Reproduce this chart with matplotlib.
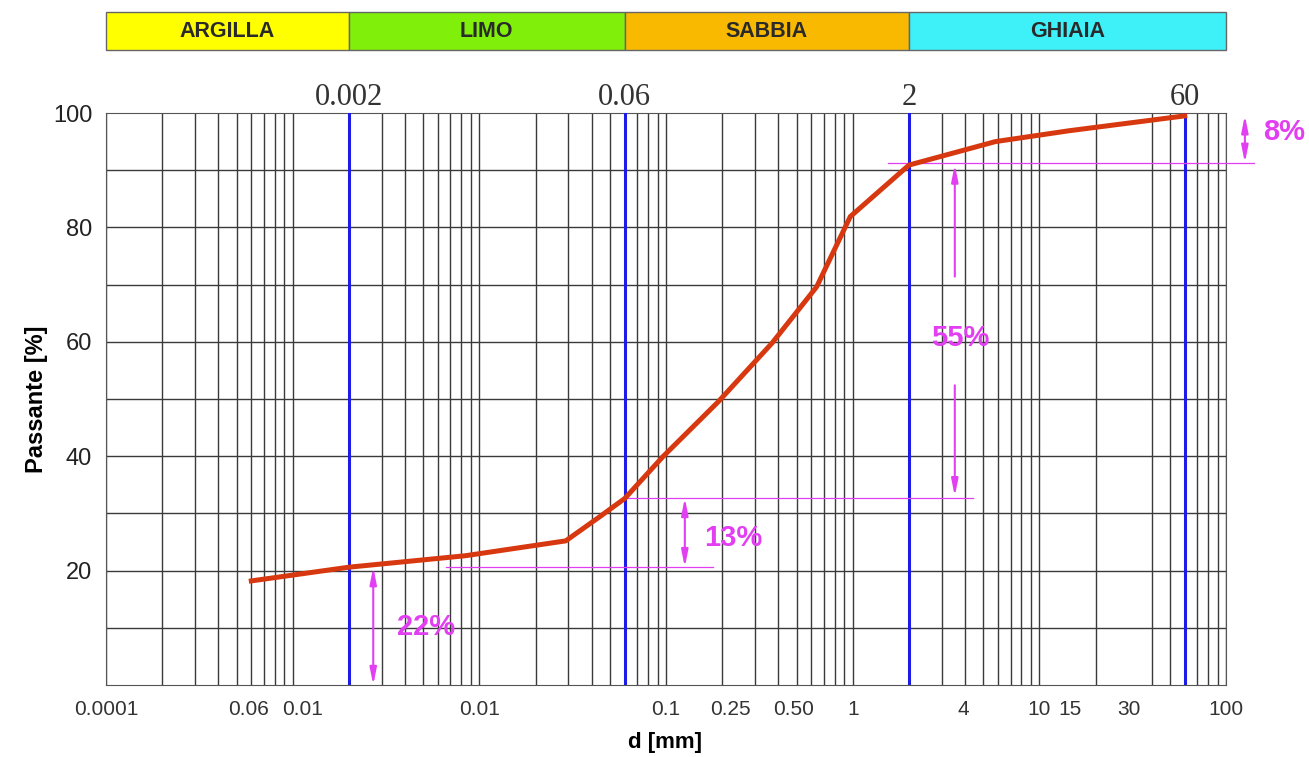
import matplotlib
matplotlib.use('Agg')
import matplotlib.pyplot as plt
from matplotlib.patches import Rectangle
from matplotlib.transforms import blended_transform_factory

# curva granulometrica (d in mm, passante in %)
diametri = [0.0006, 0.002, 0.0084, 0.029, 0.044, 0.06, 0.096, 0.19, 0.37, 0.64, 0.97, 2.0, 5.8, 14.4, 60]
passante = [18.2, 20.6, 22.6, 25.2, 29.4, 32.6, 39.9, 49.5, 59.8, 69.6, 81.9, 90.9, 95.0, 96.9, 99.5]

# classi granulometriche
classi = ["ARGILLA", "LIMO", "SABBIA", "GHIAIA"]
limiti_classi = [0.0001, 0.002, 0.06, 2, 100]
colori_classi = ["#FFFF00", "#80F00A", "#F9B900", "#3EF0F8"]
limiti_label = ["0.002", "0.06", "2", "60"]
limiti_val = [0.002, 0.06, 2, 60]

# etichette asse x (come nell'originale)
xtick_pos = [0.0001, 0.00058, 0.00113, 0.01, 0.1, 0.22, 0.48, 1, 3.9, 10, 14.6, 30, 100]
xtick_lab = ["0.0001", "0.06", "0.01", "0.01", "0.1", "0.25", "0.50", "1", "4", "10", "15", "30", "100"]
ytick_pos = [20, 40, 60, 80, 100]
ygrid = [10, 20, 30, 40, 50, 60, 70, 80, 90]

# percentuali delle frazioni
frazioni = ["22%", "13%", "55%", "8%"]
livelli = [0, 20.6, 32.7, 91.3, 99.6]

MAGENTA = "#E23EF2"
SANS = ['Liberation Sans', 'DejaVu Sans']

fig = plt.figure(figsize=(13.09, 7.57), dpi=100)
ax = fig.add_axes([0.081, 0.0951, 0.8557, 0.7556])
ax.set_xscale('log')
ax.set_xlim(0.0001, 100)
ax.set_ylim(0, 100)

# griglia
ax.xaxis.set_minor_locator(matplotlib.ticker.LogLocator(base=10, subs=range(2, 10), numticks=20))
ax.xaxis.set_minor_formatter(matplotlib.ticker.NullFormatter())
ax.grid(True, which='minor', axis='x', color='#3a3a3a', lw=1.0)
for d in [0.0001, 0.001, 0.01, 0.1, 1, 10, 100]:
    ax.axvline(d, color='#3a3a3a', lw=1.0, zorder=0.5)
for g in ygrid:
    ax.axhline(g, color='#3a3a3a', lw=1.0, zorder=0.5)

ax.tick_params(which='both', length=0)
ax.set_yticks(ytick_pos)
ax.set_yticklabels([str(v) for v in ytick_pos], fontsize=17, family=SANS, color='#222222')
ax.tick_params(axis='y', pad=10)

ax.set_xticks(xtick_pos)
ax.set_xticklabels(xtick_lab, fontsize=15, color='#333333',
                   family=['Liberation Sans Narrow', 'Liberation Sans', 'DejaVu Sans'])
ax.tick_params(axis='x', pad=11)
for s in ax.spines.values():
    s.set_color('#555555')

ax.set_ylabel("Passante [%]", fontsize=17, fontweight='bold', family=SANS)
ax.yaxis.set_label_coords(-0.052, 0.5)
ax.set_xlabel("d [mm]", fontsize=16, fontweight='bold', family=SANS)
ax.xaxis.set_label_coords(0.499, -0.083)

# limiti tra le classi
for v in limiti_val:
    ax.axvline(v, color='#1c1ce6', lw=2.2, zorder=3)
for v, t in zip(limiti_val, limiti_label):
    ax.text(v, 1.001, t, transform=blended_transform_factory(ax.transData, ax.transAxes),
            ha='center', va='bottom', fontsize=22, color='#333333',
            family=['Liberation Serif', 'DejaVu Serif'])

# banda colorata in alto
tb = blended_transform_factory(ax.transData, fig.transFigure)
for i, nome in enumerate(classi):
    x0, x1 = limiti_classi[i], limiti_classi[i + 1]
    ax.add_patch(Rectangle((x0, 0.934), x1 - x0, 0.050, transform=tb,
                           facecolor=colori_classi[i], edgecolor='#666666',
                           lw=1.0, clip_on=False))
    ax.text((x0 * x1) ** 0.5, 0.959, nome, transform=tb, ha='center', va='center',
            fontsize=15.5, fontweight='bold', color='#2a2a2a', family=SANS)

# curva
ax.plot(diametri, passante, color='#D8380F', lw=3.6, zorder=5, solid_joinstyle='miter')

# linee orizzontali di riferimento
ax.plot([0.0066, 0.178], [livelli[1], livelli[1]], color=MAGENTA, lw=0.9, zorder=4)
ax.plot([0.058, 4.4], [livelli[2], livelli[2]], color=MAGENTA, lw=0.9, zorder=4)
ax.plot([1.55, 141], [livelli[3], livelli[3]], color=MAGENTA, lw=0.9, zorder=4, clip_on=False)

arr2 = dict(arrowstyle='<|-|>,head_length=1.0,head_width=0.2', color=MAGENTA, lw=1.5,
            shrinkA=0, shrinkB=0)
arr1 = dict(arrowstyle='-|>,head_length=1.0,head_width=0.2', color=MAGENTA, lw=1.5,
            shrinkA=0, shrinkB=0)

# 22%
ax.annotate("", xy=(0.0027, livelli[0]), xytext=(0.0027, livelli[1]), arrowprops=arr2)
# 13%
ax.annotate("", xy=(0.126, livelli[1]), xytext=(0.126, livelli[2]), arrowprops=arr2)
# 55%
ax.annotate("", xy=(3.52, livelli[3] - 0.3), xytext=(3.52, 71.4), arrowprops=arr1)
ax.annotate("", xy=(3.52, livelli[2] + 0.3), xytext=(3.52, 52.4), arrowprops=arr1)
# 8%
ax.annotate("", xy=(126, livelli[4]), xytext=(126, livelli[3]), arrowprops=arr2,
            annotation_clip=False)

fx = [0.0052, 0.23, 3.75, 205]
fy = [10.1, 25.7, 60.7, 96.6]
for t, x, y in zip(frazioni, fx, fy):
    ax.text(x, y, t, ha='center', va='center', fontsize=21, fontweight='bold',
            color=MAGENTA, family=SANS, clip_on=False, zorder=6)

fig.savefig("out.png", dpi=100)
